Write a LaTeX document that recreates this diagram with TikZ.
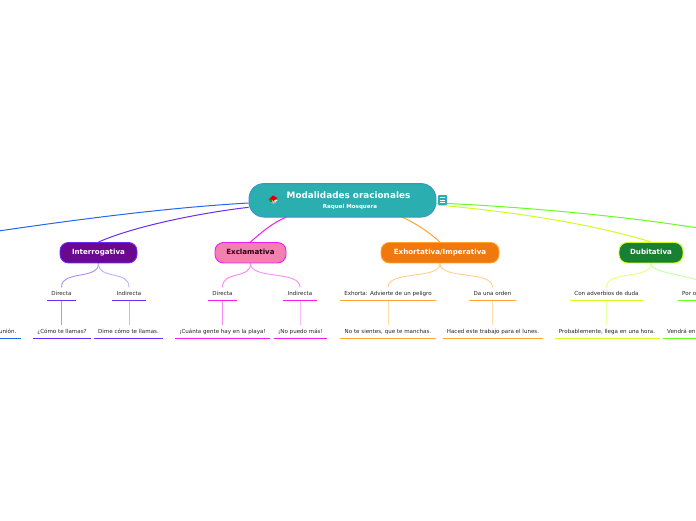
\documentclass[tikz,border=0pt]{standalone}
\usepackage{fontspec}
\usetikzlibrary{backgrounds}
\setmainfont{DejaVu Sans}
\definecolor{centralfill}{HTML}{2AAEB0}
\definecolor{centraledge}{HTML}{3F90CC}
\definecolor{bluel}{HTML}{2468F2}
\definecolor{violetl}{HTML}{6A2CF8}
\definecolor{magental}{HTML}{F01CF0}
\definecolor{orangel}{HTML}{FFA530}
\definecolor{yell}{HTML}{CCFF20}
\definecolor{greenl}{HTML}{66FF20}
\definecolor{interfill}{HTML}{6A088F}
\definecolor{exclfill}{HTML}{F380B0}
\definecolor{exhofill}{HTML}{F0780C}
\definecolor{dubifill}{HTML}{188032}
\tikzset{
  x=1pt,y=-1pt,
  branch/.style={draw=#1,line width=0.9pt,rounded corners=8.5pt,minimum height=20.5pt,inner sep=0pt,text height=5.5pt,text depth=1pt,font=\fontsize{7.1}{8}\selectfont\bfseries},
  leaf/.style={minimum height=13pt,inner sep=0pt,text height=4.2pt,text depth=1.2pt,text=black!85,font=\fontsize{5.55}{6.5}\selectfont},
  link/.style={line width=1pt},
  sublink/.style={line width=0.9pt},
  rule/.style={line width=1.2pt},
}
\newcommand{\ruleunder}[2]{\draw[rule,#2] (#1.south west) -- (#1.south east);}
\begin{document}
\begin{tikzpicture}
\useasboundingbox (0,0) rectangle (696,520);
\clip (0,0) rectangle (696,520);
\coordinate (blueend) at (-5,231.5);
\coordinate (greenend) at (701,228.5);
\coordinate (rightend) at (701,281);
% central
\node[draw=centraledge,fill=centralfill,line width=0.9pt,rounded corners=15pt,minimum width=187pt,minimum height=33.5pt,inner sep=0pt] (central) at (342.5,200.3) {};
\node[text=white,font=\fontsize{8.85}{10}\selectfont\bfseries,inner sep=0pt] (title) at (348.5,195) {Modalidades oracionales};
\node[text=white,font=\fontsize{5.55}{6.5}\selectfont\bfseries,inner sep=0pt] (sub) at (350,207) {Raquel Mosquera};
% branches
\node[branch=violetl,fill=interfill,text=white,minimum width=77pt] (inter) at (98.5,252.7) {Interrogativa};
\node[branch=magental,fill=exclfill,text=black!80!purple,minimum width=71pt] (excl) at (250.5,252.7) {Exclamativa};
\node[branch=orangel,fill=exhofill,text=white,minimum width=118pt] (exho) at (440,252.7) {Exhortativa/Imperativa};
\node[branch=yell,fill=dubifill,text=white,minimum width=64pt] (dubi) at (651,252.7) {Dubitativa};
% second level
\node[leaf,minimum width=29pt] (a1) at (61.5,294) {Directa};
\node[leaf,minimum width=34pt] (a2) at (129,294) {Indirecta};
\node[leaf,minimum width=58pt] (a3) at (62,331.5) {¿Cómo te llamas?};
\node[leaf,minimum width=69pt] (a4) at (128.5,331.5) {Dime cómo te llamas.};
\node[leaf,minimum width=29pt] (b1) at (222.5,294) {Directa};
\node[leaf,minimum width=34pt] (b2) at (300,294) {Indirecta};
\node[leaf,minimum width=95pt] (b3) at (222.5,331.5) {¡Cuánta gente hay en la playa!};
\node[leaf,minimum width=53pt] (b4) at (300.5,331.5) {¡No puedo más!};
\node[leaf,minimum width=96pt] (c1) at (388,294) {Exhorta: Advierte de un peligro};
\node[leaf,minimum width=47pt] (c2) at (492.5,294) {Da una orden};
\node[leaf,minimum width=96pt] (c3) at (388,331.5) {No te sientes, que te manchas.};
\node[leaf,minimum width=100pt] (c4) at (493,331.5) {Haced este trabajo para el lunes.};
\node[leaf,minimum width=73pt] (d1) at (606.5,294) {Con adverbios de duda};
\node[leaf,minimum width=104pt] (d3) at (607,331.5) {Probablemente, llega en una hora.};
\node[leaf,text width=30pt,align=left,anchor=west] (d2) at (678,294) {\hspace*{4pt}Por o};
\node[leaf,text width=50pt,align=left,anchor=west] (d4) at (663,331.5) {\hspace*{4pt}Vendrá en};
\node[leaf,text width=25pt,align=right,anchor=east] (l1) at (21,331.5) {unión.\hspace*{4.5pt}};
% rules
\ruleunder{a1}{violetl}\ruleunder{a2}{violetl}\ruleunder{a3}{violetl}\ruleunder{a4}{violetl}
\ruleunder{b1}{magental}\ruleunder{b2}{magental}\ruleunder{b3}{magental}\ruleunder{b4}{magental}
\ruleunder{c1}{orangel}\ruleunder{c2}{orangel}\ruleunder{c3}{orangel}\ruleunder{c4}{orangel}
\ruleunder{d1}{yell}\ruleunder{d3}{yell}\ruleunder{d2}{greenl}\ruleunder{d4}{greenl}
\ruleunder{l1}{bluel}
% icons
\node[fill=centralfill,draw=none,rounded corners=1pt,minimum width=9pt,minimum height=10pt,inner sep=0pt] (note) at (442.5,200) {};
\draw[white,line width=0.6pt] (note.center) ++(-2.5,-2.5) -- ++(5,0) ++(-5,2.5) -- ++(5,0) ++(-5,2.5) -- ++(5,0);
\coordinate (book) at (274,199);
\fill[white!85!green] (book) ++(-5,1) -- ++(5,-1) -- ++(3.5,1.5) -- ++(-4,2.5) -- cycle;
\fill[gray!60] (book) ++(-3,3) -- ++(3,-1) -- ++(2.5,1.5) -- ++(-3,1.5) -- cycle;
\fill[green!60!black] (book) ++(-5.5,0.5) -- ++(2,-1) -- ++(2,3) -- ++(-1.5,0.5) -- cycle;
\fill[red!85!black] (book) ++(-4.5,-0.5) -- ++(3.5,-3) -- ++(4.5,2.5) -- ++(-4,3) -- cycle;
% links
\begin{scope}[on background layer]
\draw[link,bluel] (central.west |- 0,203) .. controls (160,208) and (60,222) .. (blueend);
\draw[link,violetl] (central.west |- 0,207.3) .. controls (200,213) and (135,226) .. (inter.north);
\draw[link,magental] (287,216.8) .. controls (272,223) and (262,232) .. (excl.north);
\draw[link,orangel] (401,216.8) .. controls (416,223) and (430,233) .. (exho.north);
\draw[link,yell] (central.east |- 0,205) .. controls (520,212) and (600,226) .. (dubi.north);
\draw[link,greenl] (central.east |- 0,203) .. controls (530,207) and (630,217) .. (greenend);
\draw[sublink,violetl!55!white] (inter.south) .. controls (98.5,280) and (61.5,270) .. (a1.north);
\draw[sublink,violetl!40!white] (inter.south) .. controls (98.5,280) and (129,270) .. (a2.north);
\draw[sublink,violetl!50!white] (a1.south) -- (a1.south |- a3.north);
\draw[sublink,violetl!35!white] (a2.south) -- (a2.south |- a4.north);
\draw[sublink,magental!55!white] (excl.south) .. controls (250.5,280) and (222.5,270) .. (b1.north);
\draw[sublink,magental!50!white] (excl.south) .. controls (250.5,280) and (300,270) .. (b2.north);
\draw[sublink,magental!50!white] (b1.south) -- (b1.south |- b3.north);
\draw[sublink,magental!30!white] (b2.south) -- (b2.south |- b4.north);
\draw[sublink,orangel!55!white] (exho.south) .. controls (440,280) and (388,270) .. (c1.north);
\draw[sublink,orangel!55!white] (exho.south) .. controls (440,280) and (492.5,270) .. (c2.north);
\draw[sublink,orangel!40!white] (c1.south) -- (c1.south |- c3.north);
\draw[sublink,orangel!40!white] (c2.south) -- (c2.south |- c4.north);
\draw[sublink,yell!55!white] (dubi.south) .. controls (651,280) and (606.5,270) .. (d1.north);
\draw[sublink,greenl!40!white] (dubi.south) .. controls (651,272) and (675,273) .. (rightend);
\draw[sublink,yell!40!white] (d1.south) -- (d1.south |- d3.north);
\end{scope}
\end{tikzpicture}
\end{document}
